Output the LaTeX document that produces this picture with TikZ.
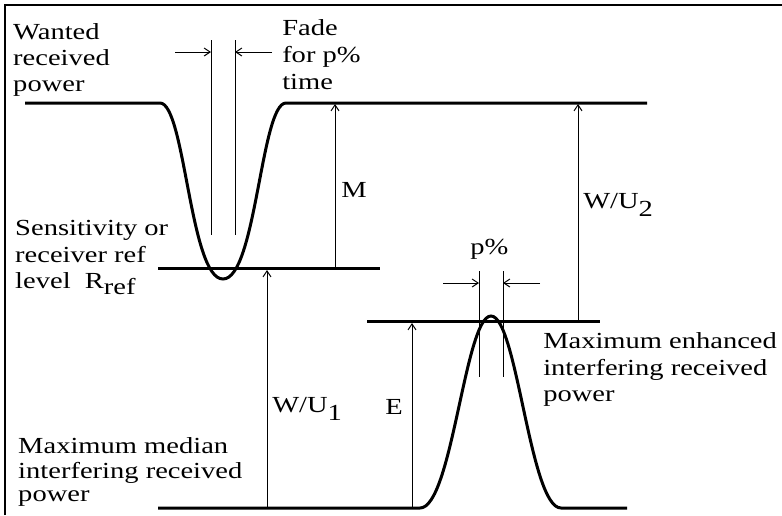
\documentclass[tikz,border=0pt]{standalone}
\usepackage{fontspec}
\newfontfamily\lserif{Liberation Serif}
\usetikzlibrary{arrows.meta}
\begin{document}
\begin{tikzpicture}[x=1pt,y=-1pt,
  level/.style={line width=3pt},
  guide/.style={line width=1pt},
  dim/.style={line width=1pt,-{Straight Barb[length=6pt,width=8pt]}},
  lbl/.style={anchor=base west,inner sep=0pt,xscale=1.24,font=\lserif\fontsize{23}{27}\selectfont}]
\useasboundingbox (0,0) rectangle (782,515);
\draw[line width=2pt] (5,515) -- (5,5) -- (782,5);
% power levels
\draw[level] (25,103) -- (160,103) .. controls (185,103) and (190,279) .. (223,279) .. controls (256,279) and (261,103) .. (286,103) -- (647,103);
\draw[level] (158,268) -- (380,268);
\draw[level] (367,321) -- (600,321);
\draw[level] (158,508) -- (420,508) .. controls (452,508) and (465,316) .. (491,316) .. controls (517,316) and (530,508) .. (561,508) -- (627,508);
% named points
\coordinate (fl) at (211,52); \coordinate (fr) at (235,52);
\coordinate (fla) at (175,52); \coordinate (fra) at (272,52);
\coordinate (pl) at (479,283); \coordinate (pr) at (503,283);
\coordinate (pla) at (443,283); \coordinate (pra) at (540,283);
\coordinate (m0) at (335,268); \coordinate (m1) at (335,104);
\coordinate (u20) at (578,321); \coordinate (u21) at (578,104);
\coordinate (u10) at (267,508); \coordinate (u11) at (267,270);
\coordinate (e0) at (412,508); \coordinate (e1) at (412,323);
% guide lines
\draw[guide] (211,40) -- (211,235);
\draw[guide] (235,40) -- (235,235);
\draw[guide] (479,271) -- (479,377);
\draw[guide] (503,271) -- (503,377);
% dimension arrows
\draw[dim] (fla) -- (fl);
\draw[dim] (fra) -- (fr);
\draw[dim] (pla) -- (pl);
\draw[dim] (pra) -- (pr);
\draw[dim] (m0) -- (m1);
\draw[dim] (u20) -- (u21);
\draw[dim] (u10) -- (u11);
\draw[dim] (e0) -- (e1);
% labels
\node[lbl] (wa1) at (13,39) {Wanted};
\node[lbl] (wa2) at (13,65) {received};
\node[lbl] (wa3) at (13,91) {power};
\node[lbl] (fa1) at (282,35) {Fade};
\node[lbl] (fa2) at (282,62) {for p\%};
\node[lbl] (fa3) at (282,89) {time};
\node[lbl] (se1) at (15,235) {Sensitivity or};
\node[lbl] (se2) at (15,262) {receiver ref};
\node[lbl] (se3) at (15,288) {level\ \ R\raisebox{-6pt}{ref}};
\node[lbl] (ml) at (341,197) {M};
\node[lbl] (u2l) at (583,208) {W/U\raisebox{-8pt}{2}};
\node[lbl] (pp) at (470,254) {p\%};
\node[lbl] (me1) at (543,348) {Maximum enhanced};
\node[lbl] (me2) at (543,375) {interfering received};
\node[lbl] (me3) at (543,401) {power};
\node[lbl] (u1l) at (272,412) {W/U\raisebox{-8pt}{1}};
\node[lbl] (el) at (385,414) {E};
\node[lbl] (mm1) at (18,453) {Maximum median};
\node[lbl] (mm2) at (18,478) {interfering received};
\node[lbl] (mm3) at (18,501) {power};
\end{tikzpicture}
\end{document}
